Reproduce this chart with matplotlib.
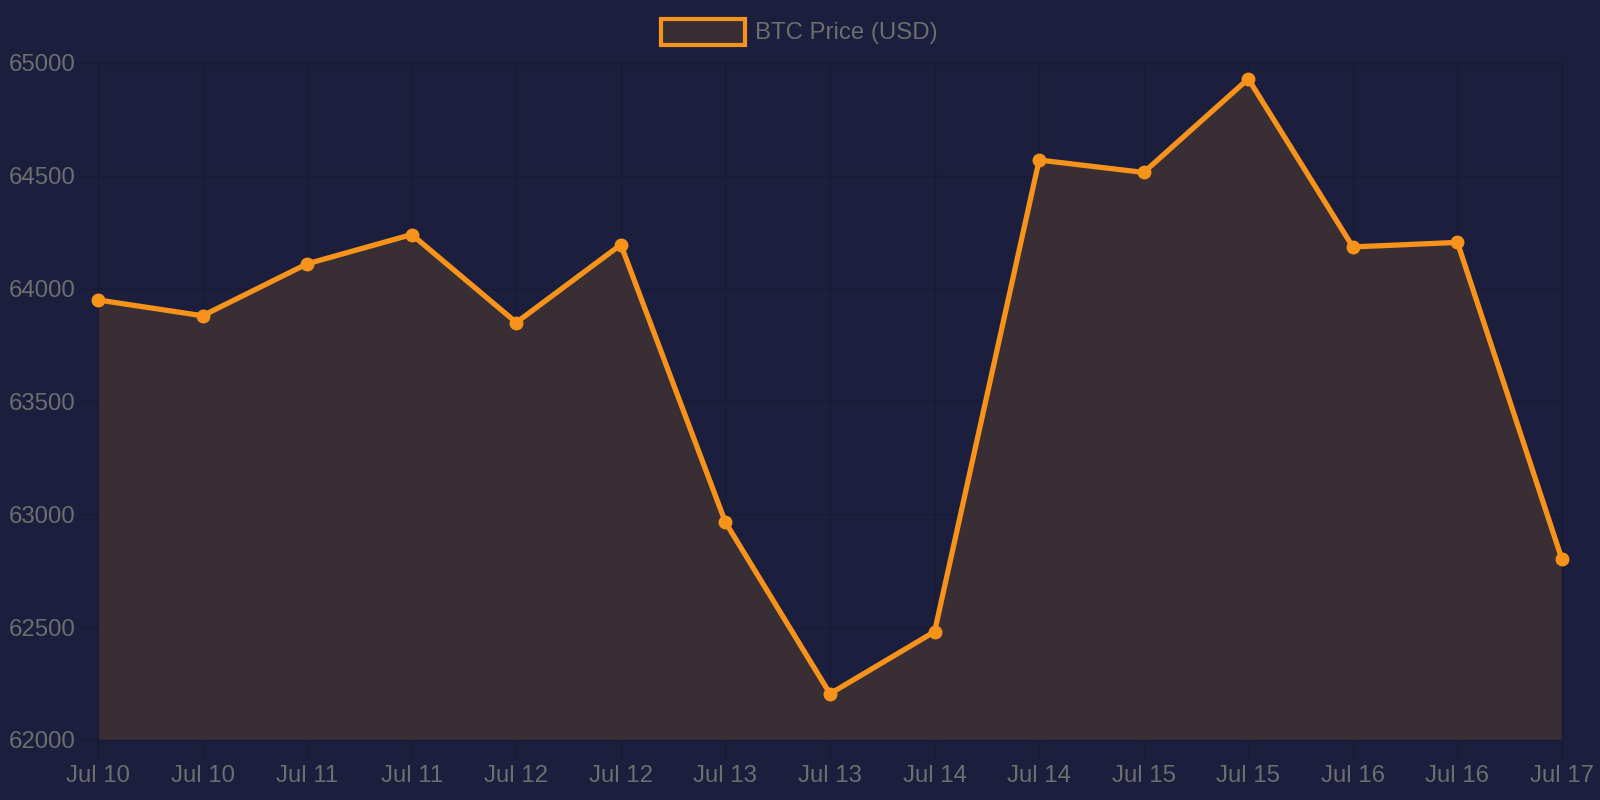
import matplotlib
matplotlib.use("Agg")
import matplotlib.pyplot as plt
from matplotlib.patches import Rectangle

labels = ["Jul 10", "Jul 10", "Jul 11", "Jul 11", "Jul 12", "Jul 12", "Jul 13", "Jul 13",
          "Jul 14", "Jul 14", "Jul 15", "Jul 15", "Jul 16", "Jul 16", "Jul 17"]
prices = [63950, 63880, 64110, 64240, 63850, 64195, 62965, 62205,
          62480, 64570, 64515, 64930, 64185, 64205, 62800]
yticks = [62000, 62500, 63000, 63500, 64000, 64500, 65000]

BG = "#1b1f3d"
FILL = "#3a2e35"
LINE = "#f7931a"
TXT = "#6e6e6e"
GRID = "#161a34"

plt.rcParams['font.family'] = ['Liberation Sans', 'DejaVu Sans']

fig = plt.figure(figsize=(16, 8), dpi=100, facecolor=BG)
ax = fig.add_axes([98/1600, 1-740/800, (1562-98)/1600, (740-63)/800])
ax.set_facecolor(BG)

x = list(range(len(prices)))
ax.fill_between(x, prices, 62000, color=FILL, zorder=2, linewidth=0)
ax.plot(x, prices, color=LINE, linewidth=3.8, zorder=3, solid_joinstyle='round', clip_on=False)
ax.plot(x, prices, 'o', color=LINE, markersize=9, zorder=4, clip_on=False)

ax.set_xlim(0, len(prices)-1)
ax.set_ylim(62000, 65000)
ax.set_xticks(x)
ax.set_xticklabels(labels)
ax.set_yticks(yticks)
ax.set_yticklabels([str(v) for v in yticks])
ax.grid(True, color=GRID, linewidth=1, zorder=1)
ax.set_axisbelow(True)
for s in ax.spines.values():
    s.set_color(GRID)
    s.set_linewidth(1)
ax.tick_params(axis='both', colors=GRID, labelcolor=TXT, labelsize=17.3, width=1)
ax.tick_params(axis='x', length=13.5, pad=4.5)
ax.tick_params(axis='y', length=13, pad=3)

# legend
fig.patches.append(Rectangle((661/1600, 1-45/800), 84/1600, 26/800, transform=fig.transFigure,
                             facecolor=FILL, edgecolor=LINE, linewidth=3, figure=fig))
fig.text(755/1600, 1-33.5/800, "BTC Price (USD)", color=TXT, fontsize=17.3, va='center', ha='left')

fig.savefig("out.png", dpi=100, facecolor=BG)
